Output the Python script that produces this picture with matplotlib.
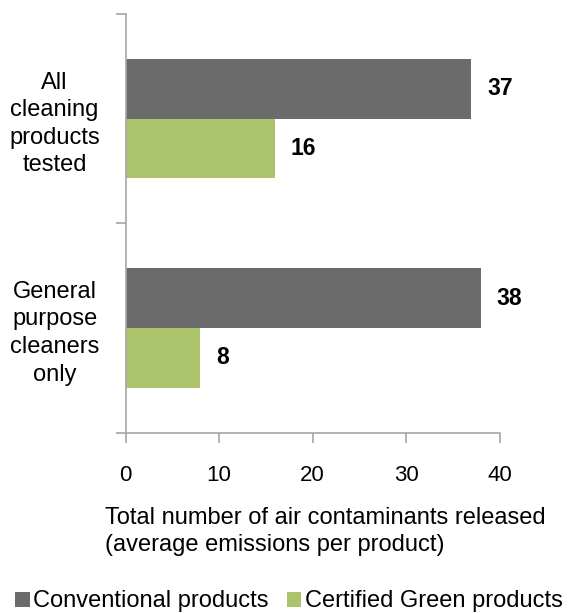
import matplotlib
matplotlib.use("Agg")
import matplotlib.pyplot as plt
from matplotlib.patches import Patch
import numpy as np

categories = ["All\ncleaning\nproducts\ntested", "General\npurpose\ncleaners\nonly"]
conventional = [37, 38]
certified_green = [16, 8]
series_names = ["Conventional products", "Certified Green products"]
x_ticks = [0, 10, 20, 30, 40]

plt.rcParams['font.family'] = ['Liberation Sans', 'DejaVu Sans']

W, H = 569, 613
fig = plt.figure(figsize=(W / 100, H / 100), dpi=100)
ax = fig.add_axes([125.5 / W, (H - 432.5) / H, (499.5 - 125.5) / W, (432.5 - 14) / H])

dark = "#6b6b6b"
green = "#abc46c"
axis_col = "#a6a6a6"

y = np.arange(len(categories))
bh = 0.285
ax.barh(y - bh / 2, conventional, height=bh, color=dark)
ax.barh(y + bh / 2, certified_green, height=bh, color=green)

for yi, v in zip(y - bh / 2, conventional):
    ax.text(v + 1.7, yi, str(v), ha="left", va="center", fontsize=16.5, fontweight="bold")
for yi, v in zip(y + bh / 2, certified_green):
    ax.text(v + 1.7, yi, str(v), ha="left", va="center", fontsize=16.5, fontweight="bold")

ax.set_xlim(0, 40)
ax.set_ylim(1.5, -0.5)
ax.set_xticks(x_ticks)
ax.set_xticklabels([str(t) for t in x_ticks], fontsize=16)
ax.set_yticks([-0.5, 0.5, 1.5])
ax.set_yticklabels([])
ax.set_yticks(y, minor=True)
ax.set_yticklabels(categories, minor=True, fontsize=17, linespacing=1.33, ha="center")
ax.tick_params(axis="y", which="minor", length=0, pad=51)
ax.tick_params(axis="y", which="major", length=7, color=axis_col, width=1.2)
ax.tick_params(axis="x", length=7, color=axis_col, width=1.2, pad=16.5)

for s in ["top", "right"]:
    ax.spines[s].set_visible(False)
for s in ["left", "bottom"]:
    ax.spines[s].set_color(axis_col)
    ax.spines[s].set_linewidth(1.2)

fig.text(105 / W, 1 - 507 / H, "Total number of air contaminants released\n(average emissions per product)",
         ha="left", va="top", fontsize=17, linespacing=1.28)

handles = [Patch(facecolor=dark), Patch(facecolor=green)]
fig.legend(handles, series_names, loc="center", bbox_to_anchor=(289 / W, 1 - 601.5 / H),
           ncol=2, frameon=False, fontsize=17, handlelength=0.62, handleheight=0.62,
           handletextpad=0.15, columnspacing=0.75, borderpad=0, borderaxespad=0)

fig.savefig("out.png", dpi=100)
